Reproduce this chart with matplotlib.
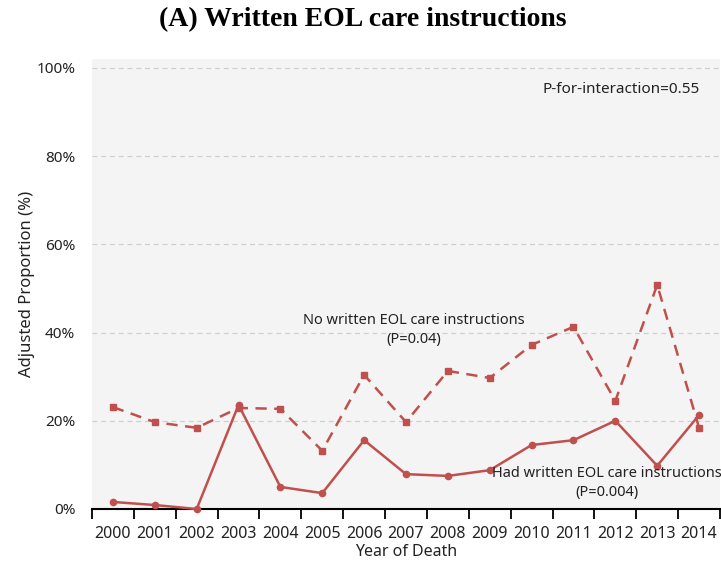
import numpy as np
import matplotlib.pyplot as plt
from matplotlib.ticker import FixedLocator, FuncFormatter

years = ["2000", "2001", "2002", "2003", "2004", "2005", "2006", "2007",
         "2008", "2009", "2010", "2011", "2012", "2013", "2014"]
# adjusted proportions (%)
no_written = [23.1, 19.7, 18.4, 22.9, 22.7, 13.2, 30.4, 19.7,
              31.3, 29.7, 37.2, 41.3, 24.5, 50.8, 18.4]
had_written = [1.6, 0.9, 0.0, 23.6, 5.0, 3.6, 15.6, 7.9,
               7.5, 8.8, 14.5, 15.6, 20.0, 9.8, 21.3]

plt.rcParams['font.family'] = ['Noto Sans', 'DejaVu Sans']
red = "#C0504D"
txt = "#222222"

fig = plt.figure(figsize=(7.21, 5.66), dpi=100)
ax = fig.add_axes([92/721, 57/566, 628/721, 450/566])
ax.set_facecolor("#f4f4f4")

x = np.arange(len(years))
ax.plot(x, no_written, color=red, linewidth=1.8, linestyle=(0, (4.5, 3)),
        marker="s", markersize=5, zorder=3)
ax.plot(x, had_written, color=red, linewidth=1.8, marker="o",
        markersize=4.5, zorder=3, clip_on=False)

ax.set_xlim(-0.5, len(years) - 0.5)
ax.set_ylim(0, 102)
ax.set_yticks([0, 20, 40, 60, 80, 100])
ax.yaxis.set_major_formatter(FuncFormatter(lambda v, p: f"{v:.0f}%"))
ax.grid(axis="y", color="#cfcfcf", linestyle=(0, (4, 3)), linewidth=0.9)
ax.set_axisbelow(True)

ax.set_xticks(x)
ax.set_xticklabels(years)
ax.xaxis.set_minor_locator(FixedLocator(np.arange(-0.5, len(years), 1.0)))
ax.tick_params(axis="x", which="major", length=0, pad=12, labelsize=11.5, labelcolor=txt)
ax.tick_params(axis="x", which="minor", length=7, width=1.3, direction="out", color="black")
ax.tick_params(axis="y", length=0, pad=12, labelsize=11, labelcolor=txt)

for s in ["top", "right", "left"]:
    ax.spines[s].set_visible(False)
ax.spines["bottom"].set_linewidth(1.5)
ax.spines["bottom"].set_color("black")

ax.set_xlabel("Year of Death", fontsize=11.5, labelpad=2, color=txt)
ax.set_ylabel("Adjusted Proportion (%)", fontsize=12, color=txt)
ax.yaxis.set_label_coords(-0.091, 0.5)

ax.text(12.15, 95, "P-for-interaction=0.55", ha="center", va="center", fontsize=11, color=txt)
ax.text(7.18, 40.6, "No written EOL care instructions\n(P=0.04)", ha="center", va="center",
        fontsize=10.5, color=txt, linespacing=1.4)
ax.text(11.79, 5.9, "Had written EOL care instructions\n(P=0.004)", ha="center", va="center",
        fontsize=10.5, color=txt, linespacing=1.4)

fig.text(363/721, 1 - 20/566, "(A) Written EOL care instructions", ha="center", va="center",
         fontsize=20, fontweight="bold", family="Liberation Serif")

fig.savefig("out.png", dpi=100)
